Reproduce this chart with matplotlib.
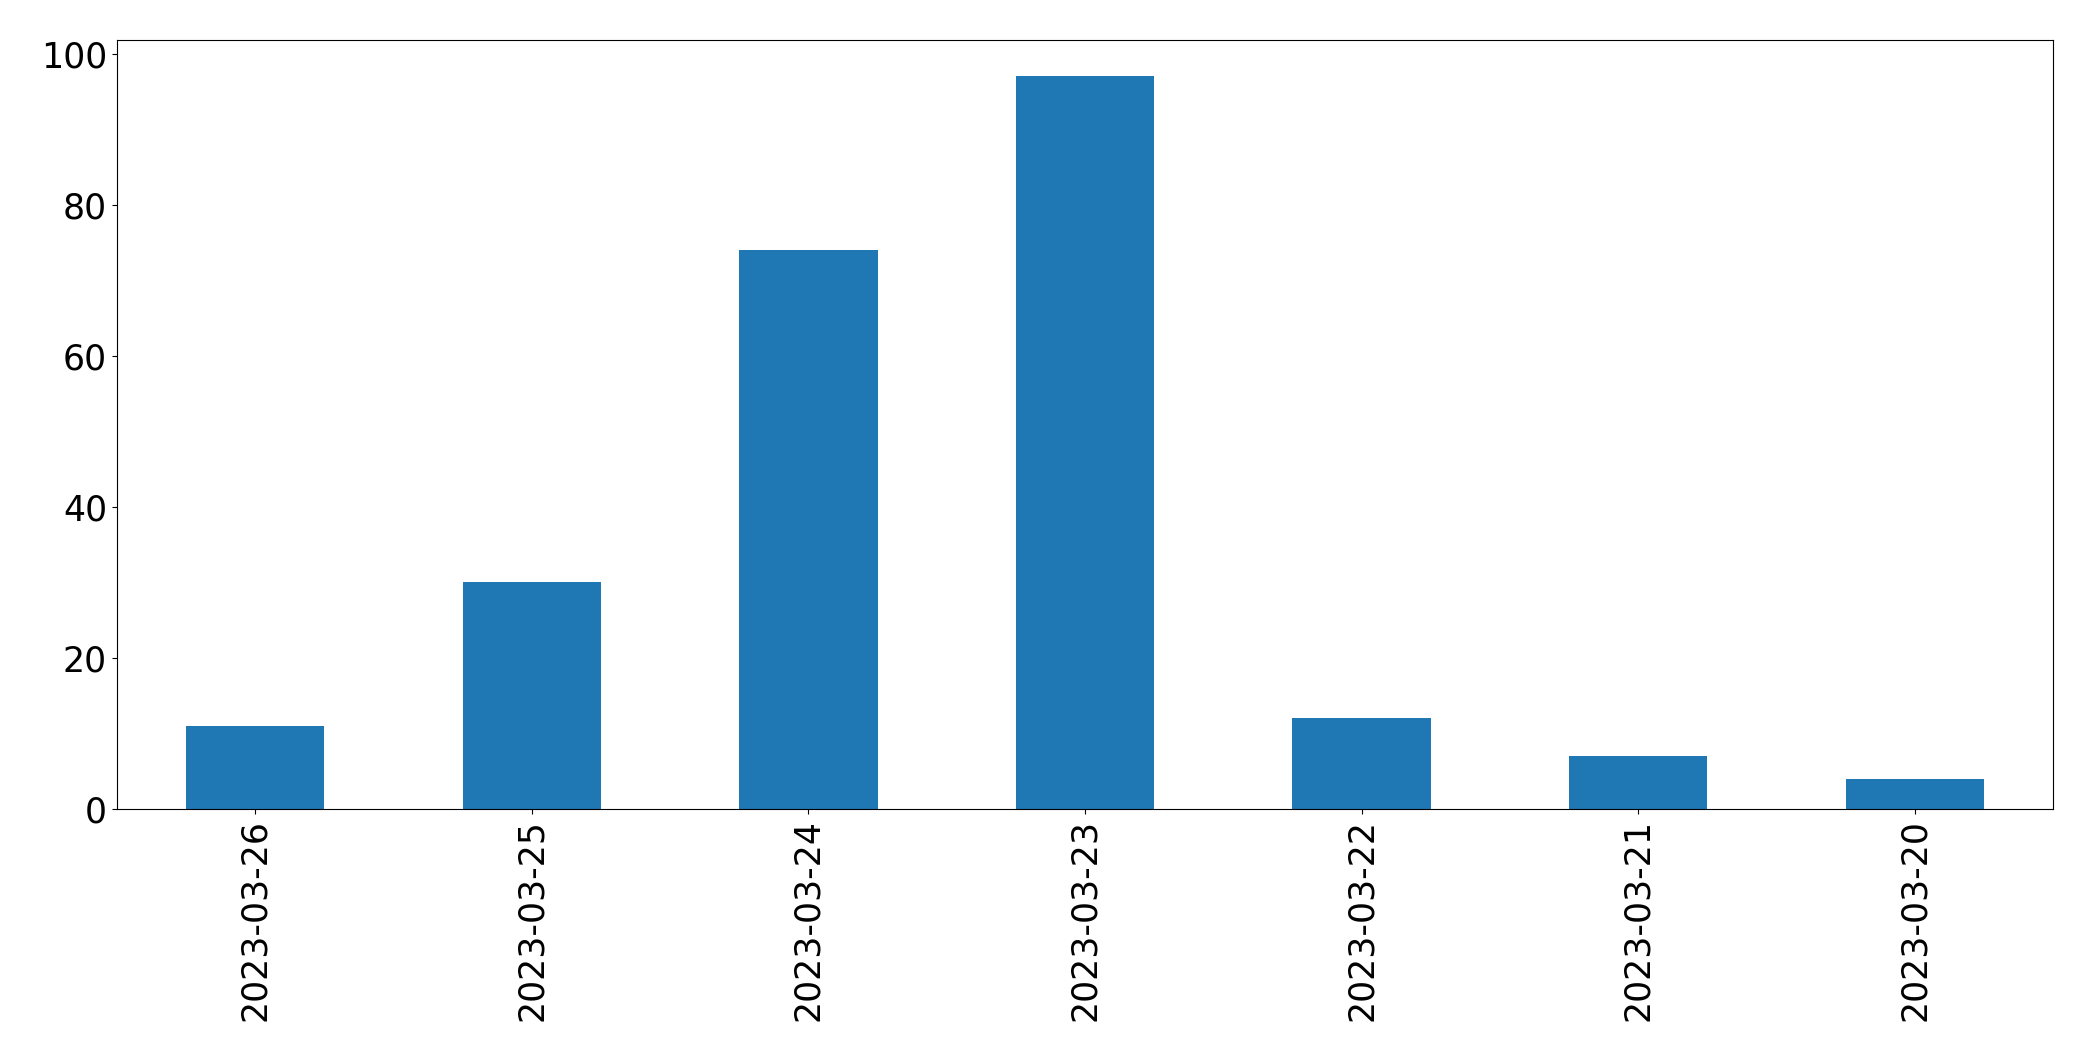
import matplotlib
matplotlib.use("Agg")
import matplotlib.pyplot as plt

dates = ["2023-03-26", "2023-03-25", "2023-03-24", "2023-03-23",
         "2023-03-22", "2023-03-21", "2023-03-20"]
counts = [11, 30, 74, 97, 12, 7, 4]

fig = plt.figure(figsize=(20.93, 10.61), dpi=100)
ax = fig.add_axes([0.0558, 0.2375, 0.9252, 0.7252])
x = list(range(len(dates)))
ax.bar(x, counts, width=0.5, color="#1f77b4")
ax.set_xlim(-0.5, len(dates) - 0.5)
ax.set_xticks(x)
ax.set_xticklabels(dates, rotation=90)
ax.tick_params(axis="both", labelsize=25)
fig.savefig("out.png", dpi=100)
